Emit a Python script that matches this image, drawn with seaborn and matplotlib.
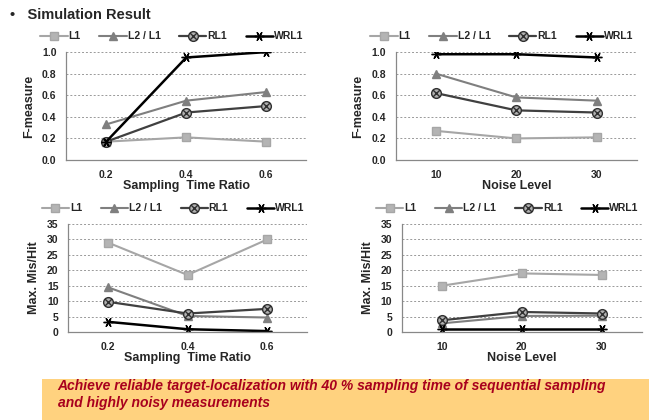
import matplotlib
matplotlib.use("Agg")
import matplotlib.pyplot as plt
import seaborn as sns
from matplotlib.path import Path
from matplotlib.patches import Rectangle

sns.set_theme(style="white")
plt.rcParams['font.family'] = ['Liberation Sans', 'DejaVu Sans']

# data
ratio_labels = ["0.2", "0.4", "0.6"]
noise_labels = ["10", "20", "30"]
methods = ["L1", "L2 / L1", "RL1", "WRL1"]

f_ratio_L1 = [0.17, 0.21, 0.17]
f_ratio_L2 = [0.33, 0.55, 0.63]
f_ratio_RL1 = [0.17, 0.44, 0.50]
f_ratio_WRL1 = [0.17, 0.95, 1.00]

f_noise_L1 = [0.27, 0.20, 0.21]
f_noise_L2 = [0.80, 0.58, 0.55]
f_noise_RL1 = [0.62, 0.46, 0.44]
f_noise_WRL1 = [0.98, 0.98, 0.95]

m_ratio_L1 = [29, 18.5, 30]
m_ratio_L2 = [14.5, 5.2, 4.7]
m_ratio_RL1 = [9.8, 6.0, 7.5]
m_ratio_WRL1 = [3.3, 0.9, 0.3]

m_noise_L1 = [15, 19, 18.5]
m_noise_L2 = [2.8, 5.2, 5.3]
m_noise_RL1 = [3.8, 6.5, 6.0]
m_noise_WRL1 = [0.9, 0.9, 0.9]

# circle with an x inside
circ = Path.unit_circle()
cross = Path([(-0.7, -0.7), (0.7, 0.7), (-0.7, 0.7), (0.7, -0.7)],
             [Path.MOVETO, Path.LINETO, Path.MOVETO, Path.LINETO])
circ_x = Path.make_compound_path(circ, cross)

styles = {
    "L1": dict(color="#A6A6A6", marker="s", markersize=6, mfc="#B4B4B4", mec="#A6A6A6", lw=1.5),
    "L2 / L1": dict(color="#7F7F7F", marker="^", markersize=6, mfc="#7F7F7F", mec="#7F7F7F", lw=1.5),
    "RL1": dict(color="#404040", marker=circ_x, markersize=7, mfc="#B0B0B0", mec="#303030", lw=1.6),
    "WRL1": dict(color="#000000", marker=(6, 2, 90), markersize=7, mfc="#000000", mec="#000000", lw=1.8),
}

panels = [
    ([0.102, 0.619, 0.370, 0.257], ratio_labels, [f_ratio_L1, f_ratio_L2, f_ratio_RL1, f_ratio_WRL1],
     "F-measure", "Sampling  Time Ratio", (0, 1.0), [0, 0.2, 0.4, 0.6, 0.8, 1.0], "{:.1f}"),
    ([0.610, 0.619, 0.371, 0.257], noise_labels, [f_noise_L1, f_noise_L2, f_noise_RL1, f_noise_WRL1],
     "F-measure", "Noise Level", (0, 1.0), [0, 0.2, 0.4, 0.6, 0.8, 1.0], "{:.1f}"),
    ([0.105, 0.2095, 0.368, 0.257], ratio_labels, [m_ratio_L1, m_ratio_L2, m_ratio_RL1, m_ratio_WRL1],
     "Max. Mis/Hit", "Sampling  Time Ratio", (0, 35), [0, 5, 10, 15, 20, 25, 30, 35], "{:d}"),
    ([0.619, 0.2095, 0.370, 0.257], noise_labels, [m_noise_L1, m_noise_L2, m_noise_RL1, m_noise_WRL1],
     "Max. Mis/Hit", "Noise Level", (0, 35), [0, 5, 10, 15, 20, 25, 30, 35], "{:d}"),
]

fig = plt.figure(figsize=(6.49, 4.20), dpi=100)

for rect, labels, series, ylab, xlab, ylim, yticks, fmt in panels:
    ax = fig.add_axes(rect)
    pos = list(range(len(labels)))
    for name, vals in zip(methods, series):
        st = styles[name]
        sns.lineplot(x=pos, y=vals, ax=ax, label=name, color=st["color"], lw=st["lw"],
                     marker=st["marker"], markersize=st["markersize"],
                     markerfacecolor=st["mfc"], markeredgecolor=st["mec"], markeredgewidth=1.0)
    ax.set_xlim(-0.5, 2.5)
    ax.set_ylim(*ylim)
    ax.set_xticks(pos)
    ax.set_xticklabels(labels, fontsize=7.5, fontweight="bold")
    ax.set_xticks([-0.5, 0.5, 1.5, 2.5], minor=True)
    ax.tick_params(axis="x", which="major", length=0, pad=7)
    ax.tick_params(axis="x", which="minor", length=4, color="#888888", width=0.8, direction="out")
    ax.set_yticks(yticks)
    ax.set_yticklabels([fmt.format(v) for v in yticks], fontsize=7.5, fontweight="bold")
    ax.tick_params(axis="y", length=3, color="#888888", width=0.8, direction="out", pad=4)
    ax.yaxis.grid(True, linestyle=(0, (2, 2)), color="#999999", lw=0.7)
    ax.xaxis.grid(False)
    for s in ["top", "right"]:
        ax.spines[s].set_visible(False)
    for s in ["left", "bottom"]:
        ax.spines[s].set_color("#888888")
        ax.spines[s].set_linewidth(0.9)
    ax.set_xlabel(xlab, fontsize=9, fontweight="bold", labelpad=0)
    ax.set_ylabel(ylab, fontsize=9, fontweight="bold", labelpad=5,
                  family=["Liberation Sans Narrow", "Liberation Sans"])
    ax.legend(loc="lower center", bbox_to_anchor=(0.44, 1.06), ncol=4, frameon=False,
              prop=dict(size=7.5, weight="bold"), handlelength=2.6, columnspacing=1.8,
              handletextpad=0.1, borderaxespad=0)

fig.text(0.015, 0.965, "\u2022   Simulation Result", fontsize=10.5, fontweight="bold", va="center")

fig.patches.append(Rectangle((0.065, 0.0), 0.935, 0.098, transform=fig.transFigure,
                             facecolor="#FFD27F", edgecolor="none", zorder=0))
fig.text(0.089, 0.097, "Achieve reliable target-localization with 40 % sampling time of sequential sampling\nand highly noisy measurements",
         fontsize=10, fontweight="bold", fontstyle="italic", color="#A8001E",
         va="top", ha="left", linespacing=1.25,
         family=["Liberation Sans Narrow", "Liberation Sans"])

fig.savefig("out.png", dpi=100)
